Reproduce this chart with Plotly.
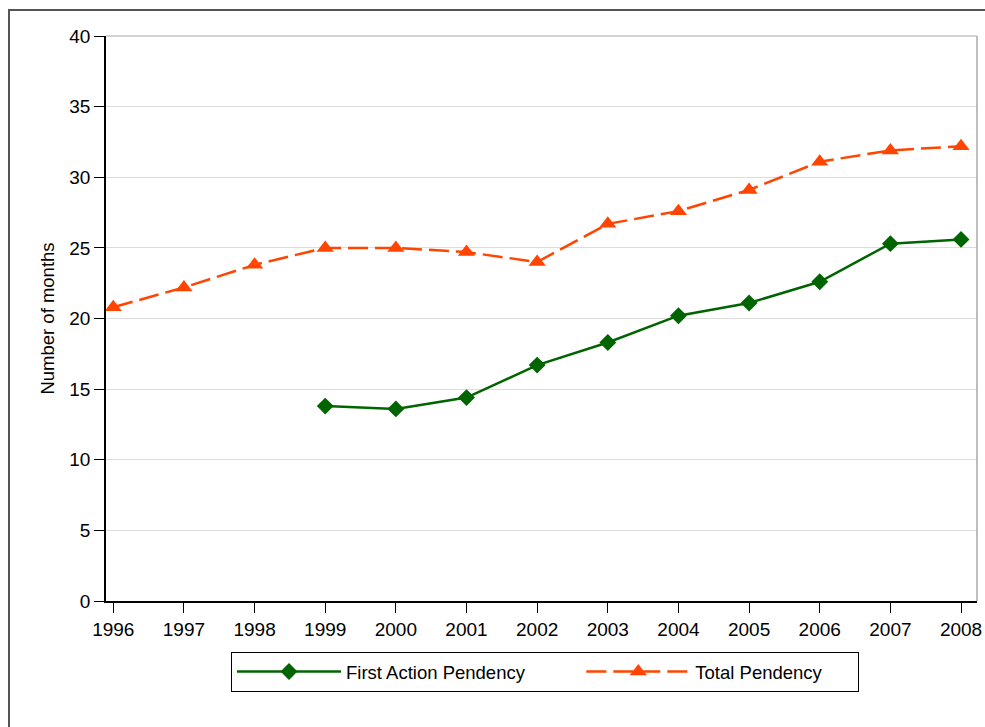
import plotly.graph_objects as go

years = [1996, 1997, 1998, 1999, 2000, 2001, 2002, 2003, 2004, 2005, 2006, 2007, 2008]
total_pendency = [20.8, 22.2, 23.8, 25.0, 25.0, 24.7, 24.0, 26.7, 27.6, 29.1, 31.1, 31.9, 32.2]
fa_years = [1999, 2000, 2001, 2002, 2003, 2004, 2005, 2006, 2007, 2008]
first_action = [13.8, 13.6, 14.4, 16.7, 18.3, 20.2, 21.1, 22.6, 25.3, 25.6]
y_ticks = [0, 5, 10, 15, 20, 25, 30, 35, 40]

FONT = "Liberation Sans, Arial, sans-serif"
NB = "\u00a0"

fig = go.Figure()
fig.add_trace(go.Scatter(
    x=fa_years, y=first_action, name="First Action Pendency" + NB * 10,
    mode="lines+markers",
    line=dict(color="#006400", width=2.5),
    marker=dict(symbol="diamond", size=13, color="#006400"),
))
fig.add_trace(go.Scatter(
    x=years, y=total_pendency, name="Total Pendency" + NB * 6,
    mode="lines+markers",
    line=dict(color="#FF4500", width=2.5, dash="20px,7px"),
    marker=dict(symbol="triangle-up", size=15, color="#FF4500"),
))

W, H = 985, 727
L, T = 106, 36
pw, ph = 871, 565
R = W - L - pw
B = H - T - ph

fig.update_layout(
    width=W, height=H,
    margin=dict(l=L, r=R, t=T, b=B, pad=0, autoexpand=False),
    paper_bgcolor="white", plot_bgcolor="white",
    font=dict(family=FONT, size=18.5, color="black"),
    showlegend=True,
    legend=dict(
        orientation="h", x=(231 - 106) / pw, xanchor="left",
        y=(601 - 652) / ph, yanchor="top",
        bordercolor="black", borderwidth=1, bgcolor="white",
        font=dict(size=18.5), itemwidth=104,
    ),
    xaxis=dict(
        range=[1995.897, 2008.226], tickmode="array", tickvals=years,
        ticktext=[str(y) for y in years], automargin=False,
        showgrid=False, zeroline=False,
        showline=True, linecolor="black", linewidth=1.5,
        ticks="outside", ticklen=10, tickcolor="black", tickwidth=1,
        tickfont=dict(size=19),
    ),
    yaxis=dict(
        range=[0, 40], tickmode="array", tickvals=y_ticks, automargin=False,
        showgrid=True, gridcolor="#dddddd", gridwidth=1, zeroline=False,
        showline=True, linecolor="black", linewidth=1.5,
        ticks="outside", ticklen=10, tickcolor="black", tickwidth=1,
        tickfont=dict(size=19),
        title=dict(text="Number of months", font=dict(size=18.5), standoff=10),
    ),
    shapes=[
        dict(type="line", xref="paper", yref="paper", x0=1, x1=1, y0=0, y1=1,
             line=dict(color="#aaaaaa", width=1.5)),
        dict(type="line", xref="paper", yref="paper", x0=0, x1=1, y0=1, y1=1,
             line=dict(color="#aaaaaa", width=1)),
        dict(type="rect", xref="paper", yref="paper",
             x0=(9 - L) / pw, x1=(W + 20 - L) / pw,
             y0=(T + ph - (H + 20)) / ph, y1=(T + ph - 10) / ph,
             line=dict(color="#555555", width=2), layer="below"),
    ],
)

fig.write_html(
    "out.html",
    config={"displayModeBar": False},
    post_script="document.body.style.margin='0px';"
                "document.documentElement.style.overflow='hidden';",
)
